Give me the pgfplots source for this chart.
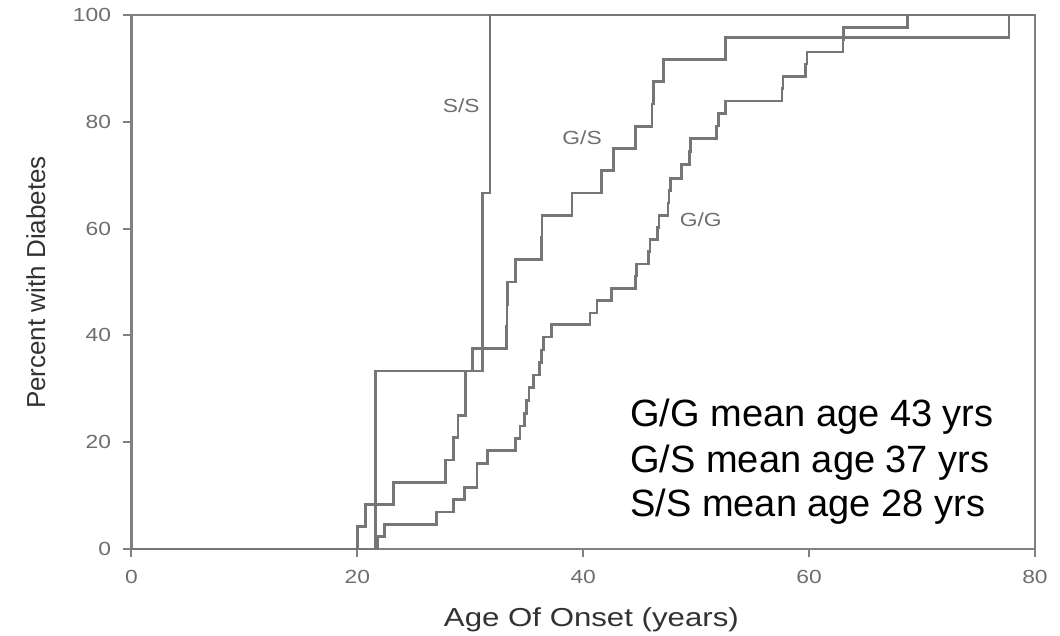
\documentclass[border=0pt]{standalone}
\usepackage{pgfplots}
\pgfplotsset{compat=1.18}
\usepackage{fontspec}
\setmainfont{Liberation Sans}
\newfontfamily\widefont{Liberation Sans}[FakeStretch=1.2]
\definecolor{curve}{RGB}{118,118,118}
\definecolor{frame}{RGB}{128,128,128}
\definecolor{ticktext}{RGB}{110,110,110}
\definecolor{labeltext}{RGB}{50,50,50}

\begin{document}
\begin{tikzpicture}
\useasboundingbox (-131.5pt,-86pt) rectangle (928.5pt,549pt);
\begin{axis}[
  at={(0,0)}, anchor=south west,
  scale only axis, width=903.5pt, height=534pt,
  xmin=0, xmax=80, ymin=0, ymax=100,
  xtick={0,20,...,80}, ytick={0,20,...,100},
  tick align=outside, xtick pos=bottom, ytick pos=left,
  major tick length=8pt,
  clip=false,
  axis line style={draw=frame, line width=2.6pt},
  tick style={draw=frame, line width=2pt},
  ticklabel style={font=\widefont\fontsize{19}{19}\selectfont, text=ticktext},
  /pgf/number format/assume math mode=true,
  x tick label style={yshift=-10pt},
  y tick label style={xshift=-9pt},
  xlabel={Age Of Onset (years)},
  ylabel={Percent with Diabetes},
  xlabel style={at={(axis description cs:0.509,-0.1453)}, anchor=base,
    font=\widefont\fontsize{26}{26}\selectfont, text=labeltext},
  ylabel style={at={(axis description cs:-0.0957,0.499)}, anchor=base, rotate=0,
    font=\fontsize{26}{26}\selectfont, text=labeltext},
]
% S/S
\addplot[const plot, curve, line width=2.6pt] coordinates {
  (0,0) (21.6,33.33) (31.1,66.67) (31.75,100) (80,100)};
% G/S
\addplot[const plot, curve, line width=2.6pt] coordinates {
  (0,0) (20.0,4.17) (20.7,8.33) (23.2,12.5) (27.8,16.67) (28.5,20.83)
  (28.9,25.0) (29.55,29.17) (29.6,33.33) (30.2,37.5) (33.2,41.67)
  (33.25,45.83) (33.3,50.0) (34.0,54.17) (36.3,58.33) (36.35,62.5)
  (39.0,66.67) (41.6,70.83) (42.7,75.0) (44.6,79.17) (46.1,83.33)
  (46.2,87.5) (47.1,91.67) (52.6,95.83) (77.7,100) (80,100)};
% G/G
\addplot[const plot, curve, line width=2.6pt] coordinates {
  (0,0) (21.8,2.3) (22.4,4.6) (27.0,6.9) (28.5,9.3) (29.5,11.5)
  (30.6,16.0) (31.5,18.4) (34.0,20.7) (34.4,23.0) (34.8,25.4)
  (35.0,27.8) (35.2,30.2) (35.6,32.6) (36.1,34.9) (36.3,37.3)
  (36.5,39.7) (37.2,42.0) (40.6,44.2) (41.2,46.5) (42.5,48.8)
  (44.6,51.1) (44.7,53.4) (45.8,55.7) (45.9,58.0) (46.6,60.2)
  (46.7,62.5) (47.5,64.8) (47.6,67.1) (47.7,69.4) (48.7,72.0)
  (49.4,74.4) (49.5,76.9) (51.8,79.2) (52.0,81.5) (52.6,83.9)
  (57.6,86.2) (57.7,88.5) (59.7,90.8) (59.8,93.1) (63.0,95.4)
  (63.05,97.7) (68.7,100) (80,100)};
% curve labels
\node[font=\widefont\fontsize{19}{19}\selectfont, text=ticktext] at (axis cs:29.2,83.1) {S/S};
\node[font=\widefont\fontsize{19}{19}\selectfont, text=ticktext] at (axis cs:39.9,77.1) {G/S};
\node[font=\widefont\fontsize{19}{19}\selectfont, text=ticktext] at (axis cs:50.4,61.6) {G/G};
% annotation
\node[anchor=base west, inner sep=0pt, font=\fontsize{38}{38}\selectfont] at (axis cs:44.15,22.85) {G/G mean age 43 yrs};
\node[anchor=base west, inner sep=0pt, font=\fontsize{38}{38}\selectfont] at (axis cs:44.15,14.4) {G/S mean age 37 yrs};
\node[anchor=base west, inner sep=0pt, font=\fontsize{38}{38}\selectfont] at (axis cs:44.15,6.0) {S/S mean age 28 yrs};
\end{axis}
\end{tikzpicture}
\end{document}
